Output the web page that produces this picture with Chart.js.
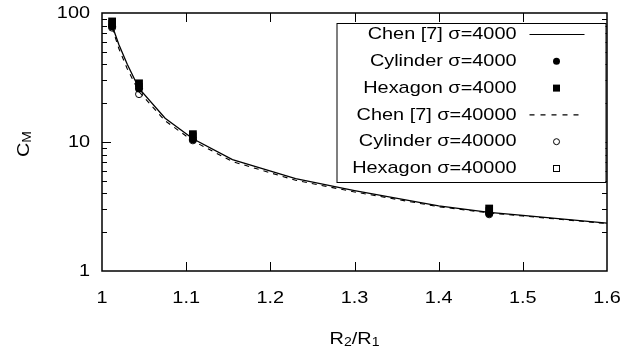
<!DOCTYPE html>
<html>
<head>
<meta charset="utf-8">
<script src="https://cdn.jsdelivr.net/npm/chart.js@4.4.0/dist/chart.umd.min.js"></script>
<style>
  html, body { margin: 0; padding: 0; background: #fff; }
</style>
</head>
<body>
<canvas id="chartCM" width="639" height="356"></canvas>
<script>
// Chen [7] curves
const chenX = [1.012, 1.02, 1.03, 1.044, 1.075, 1.108, 1.155, 1.23, 1.3, 1.4, 1.46, 1.5, 1.6];
const chen4000 = [80, 57, 40, 26, 15.3, 10.6, 7.3, 5.2, 4.2, 3.2, 2.85, 2.7, 2.35];
const chen40000 = [77, 53, 37, 24.5, 14.6, 10.2, 7.05, 5.05, 4.1, 3.15, 2.82, 2.67, 2.33];

// simulated points
const simX = [1.012, 1.044, 1.108, 1.46];
const cyl4000 = [79, 26, 10.5, 2.8];
const hex4000 = [86, 28.5, 11.5, 3.05];
const cyl40000 = [77, 23.5, 10.3, 2.75];
const hex40000 = [83, 27, 11.2, 2.95];

const xTicks = [1, 1.1, 1.2, 1.3, 1.4, 1.5, 1.6];
const yTicks = [1, 10, 100];

const FONT = '"Liberation Sans", Arial, sans-serif';
const STRETCH = 1.17; // text in the original is a bit wide

function pts(xs, ys) {
  return xs.map((x, i) => ({ x: x, y: ys[i] }));
}

const legendRows = [
  { label: 'Chen [7] σ=4000', kind: 'solid' },
  { label: 'Cylinder σ=4000', kind: 'dot' },
  { label: 'Hexagon σ=4000', kind: 'square' },
  { label: 'Chen [7] σ=40000', kind: 'dash' },
  { label: 'Cylinder σ=40000', kind: 'odot' },
  { label: 'Hexagon σ=40000', kind: 'osquare' }
];

function wideText(ctx, str, x, y, align) {
  ctx.save();
  ctx.translate(x, y);
  ctx.scale(STRETCH, 1);
  ctx.textAlign = align;
  ctx.fillText(str, 0, 0);
  ctx.restore();
}

// border + inward ticks on all four sides, tick labels
const frameTicks = {
  id: 'frameTicks',
  afterDatasetsDraw(chart) {
    const ctx = chart.ctx;
    const a = chart.chartArea;
    const xs = chart.scales.x, ys = chart.scales.y;
    ctx.save();
    ctx.strokeStyle = '#000';
    ctx.lineWidth = 1;
    ctx.beginPath();
    xTicks.forEach(v => {
      if (v === xTicks[0] || v === xTicks[xTicks.length - 1]) return;
      const px = Math.round(xs.getPixelForValue(v)) + 0.5;
      ctx.moveTo(px, a.bottom); ctx.lineTo(px, a.bottom - 9);
      ctx.moveTo(px, a.top); ctx.lineTo(px, a.top + 9);
    });
    [1, 10].forEach(d => {
      for (let m = 1; m <= 9; m++) {
        const v = m * d;
        if (v === 1) continue;
        const py = Math.round(ys.getPixelForValue(v)) + 0.5;
        const len = m === 1 ? 9 : 5;
        ctx.moveTo(a.left, py); ctx.lineTo(a.left + len, py);
        ctx.moveTo(a.right, py); ctx.lineTo(a.right - len, py);
      }
    });
    ctx.stroke();
    ctx.lineWidth = 1.5;
    ctx.strokeRect(a.left, a.top, a.right - a.left, a.bottom - a.top);

    ctx.fillStyle = '#000';
    ctx.font = '17px ' + FONT;
    ctx.textBaseline = 'middle';
    xTicks.forEach(v => {
      wideText(ctx, String(v), xs.getPixelForValue(v), a.bottom + 27, 'center');
    });
    yTicks.forEach(v => {
      wideText(ctx, String(v), a.left - 12, ys.getPixelForValue(v), 'right');
    });
    ctx.restore();
  }
};

// axis titles with subscripts
function drawSub(ctx, parts, x, y) {
  let w = 0;
  parts.forEach(p => {
    ctx.font = (p[1] ? '12px ' : '17px ') + FONT;
    w += ctx.measureText(p[0]).width * STRETCH;
  });
  let cx = x - w / 2;
  parts.forEach(p => {
    ctx.font = (p[1] ? '12px ' : '17px ') + FONT;
    wideText(ctx, p[0], cx, p[1] ? y + 4 : y, 'left');
    cx += ctx.measureText(p[0]).width * STRETCH;
  });
}

const axisTitles = {
  id: 'axisTitles',
  afterDraw(chart) {
    const ctx = chart.ctx;
    const a = chart.chartArea;
    ctx.save();
    ctx.fillStyle = '#000';
    ctx.textBaseline = 'middle';
    drawSub(ctx, [['R', false], ['2', true], ['/R', false], ['1', true]], (a.left + a.right) / 2, 339);
    ctx.translate(24, 144);
    ctx.rotate(-Math.PI / 2);
    drawSub(ctx, [['C', false], ['M', true]], 0, 0);
    ctx.restore();
  }
};

// key box in the upper right
const keyBox = {
  id: 'keyBox',
  afterDraw(chart) {
    const ctx = chart.ctx;
    const a = chart.chartArea;
    const right = a.right - 1.5, left = right - 269;
    const top = a.top + 10, bottom = top + 159;
    ctx.save();
    ctx.fillStyle = '#fff';
    ctx.fillRect(left, top, right - left, bottom - top);
    ctx.strokeStyle = '#000';
    ctx.lineWidth = 1;
    ctx.strokeRect(left + 0.5, top + 0.5, right - left, bottom - top);
    ctx.font = '17px ' + FONT;
    ctx.textBaseline = 'middle';
    legendRows.forEach((r, i) => {
      const y = top + 11.5 + i * 26.8;
      ctx.fillStyle = '#000';
      wideText(ctx, r.label, left + 180, y, 'right');
      const mx = left + 220;
      ctx.beginPath();
      if (r.kind === 'solid' || r.kind === 'dash') {
        ctx.lineWidth = 1.2;
        ctx.setLineDash(r.kind === 'dash' ? [5, 6] : []);
        ctx.moveTo(left + 193, y); ctx.lineTo(left + 248, y);
        ctx.stroke();
        ctx.setLineDash([]);
      } else if (r.kind === 'dot') {
        ctx.arc(mx, y, 3.5, 0, Math.PI * 2); ctx.fill();
      } else if (r.kind === 'square') {
        ctx.fillRect(mx - 3.5, y - 3.5, 7, 7);
      } else if (r.kind === 'odot') {
        ctx.lineWidth = 1;
        ctx.arc(mx, y, 3, 0, Math.PI * 2); ctx.stroke();
      } else {
        ctx.lineWidth = 1;
        ctx.strokeRect(mx - 3, y - 3, 6, 6);
      }
    });
    ctx.restore();
  }
};

const data = {
  datasets: [
    { label: 'Chen [7] σ=4000', data: pts(chenX, chen4000), showLine: true, borderColor: '#000', borderWidth: 1.3, pointRadius: 0, order: 5 },
    { label: 'Cylinder σ=4000', data: pts(simX, cyl4000), pointStyle: 'circle', pointRadius: 4, pointBackgroundColor: '#000', pointBorderColor: '#000', pointBorderWidth: 0, order: 1 },
    { label: 'Hexagon σ=4000', data: pts(simX, hex4000), pointStyle: 'rect', pointRadius: 5.5, pointBackgroundColor: '#000', pointBorderColor: '#000', pointBorderWidth: 0, order: 1 },
    { label: 'Chen [7] σ=40000', data: pts(chenX, chen40000), showLine: true, borderColor: '#000', borderWidth: 1.1, borderDash: [5, 5], pointRadius: 0, order: 6 },
    { label: 'Cylinder σ=40000', data: pts(simX, cyl40000), pointStyle: 'circle', pointRadius: 3.5, pointBackgroundColor: 'rgba(0,0,0,0)', pointBorderColor: '#000', pointBorderWidth: 1, order: 3 },
    { label: 'Hexagon σ=40000', data: pts(simX, hex40000), pointStyle: 'rect', pointRadius: 4.5, pointBackgroundColor: 'rgba(0,0,0,0)', pointBorderColor: '#000', pointBorderWidth: 1, order: 3 }
  ]
};

const config = {
  type: 'scatter',
  data: data,
  options: {
    responsive: false,
    animation: false,
    devicePixelRatio: 1,
    layout: { padding: { top: 13, right: 32, left: 0, bottom: 0 } },
    plugins: { legend: { display: false }, tooltip: { enabled: false } },
    scales: {
      x: {
        type: 'linear', min: 1, max: 1.6,
        afterFit: s => { s.height = 85; s.paddingLeft = 0; s.paddingRight = 0; },
        grid: { display: false, drawTicks: false },
        border: { display: false },
        ticks: { display: false }
      },
      y: {
        type: 'logarithmic', min: 1, max: 100,
        afterFit: s => { s.width = 102; s.paddingTop = 0; s.paddingBottom = 0; },
        grid: { display: false, drawTicks: false },
        border: { display: false },
        ticks: { display: false }
      }
    }
  },
  plugins: [frameTicks, axisTitles, keyBox]
};

const myChart = new Chart(document.getElementById('chartCM'), config);
</script>
</body>
</html>
